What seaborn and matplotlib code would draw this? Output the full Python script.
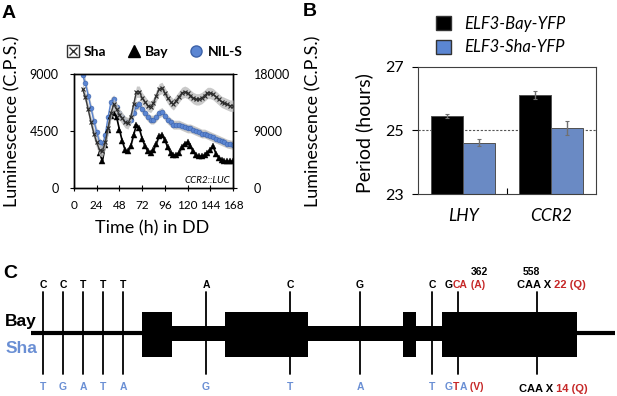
import numpy as np
import pandas as pd
import seaborn as sns
import matplotlib.pyplot as plt
from matplotlib.lines import Line2D
from matplotlib.patches import Patch, Rectangle
from matplotlib.legend_handler import HandlerTuple

sns.set_theme(style="white")
plt.rcParams['font.family'] = ['Lato', 'DejaVu Sans']
plt.rcParams['axes.edgecolor'] = 'black'
plt.rcParams['text.color'] = 'black'
plt.rcParams['xtick.color'] = 'black'
plt.rcParams['ytick.color'] = 'black'

# -----------------------------
# Panel A data: CCR2::LUC luminescence in constant dark (C.P.S.)
# -----------------------------
hours = np.arange(9, 169, 3)
sha_lum = [7800, 7200, 6200, 5200, 4300, 3600, 3000, 2900, 3600, 4700,
           5900, 6600, 6200, 5800, 5500, 5200, 5100, 5600, 6600, 7600,
           7600, 7100, 6800, 6500, 6400, 6700, 7300, 7800, 7900, 7500,
           7100, 6800, 6600, 6900, 7200, 7500, 7600, 7500, 7300, 7100,
           7000, 7000, 7100, 7300, 7500, 7500, 7400, 7200, 7000, 6800,
           6700, 6600, 6500, 6500]
# NIL-S is read on the right-hand axis
nil_lum = [17800, 16600, 14600, 12600, 10600, 8800, 7200, 6600, 8400, 11200,
           13600, 14000, 12800, 11800, 11200, 10600, 10400, 10800, 11800, 13000,
           13200, 12400, 11800, 11200, 10800, 10800, 11200, 11800, 12000, 11400,
           10800, 10400, 10000, 10000, 10000, 9800, 9600, 9400, 9400, 9200,
           9000, 8800, 8600, 8600, 8400, 8200, 8000, 7800, 7600, 7400,
           7200, 7000, 6900, 6800]
bay_hours = np.arange(27, 169, 3)
bay_lum = [2800, 2100, 3400, 4600, 5700, 5900, 5600, 4600, 3700, 3000,
           2900, 3300, 4200, 5000, 4700, 3900, 3300, 2900, 2800, 3000,
           3500, 4100, 4200, 3800, 3200, 2800, 2600, 2600, 2800, 3200,
           3500, 3600, 3300, 2900, 2600, 2500, 2500, 2600, 2800, 3000,
           3300, 2700, 2400, 2200, 2100, 2100, 2100, 2100]
sha_err = 450
bay_err = 200
nil_err = 700

# -----------------------------
# Panel B data: free-running period
# -----------------------------
genes = ['LHY', 'CCR2']
lines = ['ELF3-Bay-YFP', 'ELF3-Sha-YFP']
bay_period = [25.46, 26.11]
sha_period = [24.62, 25.09]
bay_period_err = [0.07, 0.13]
sha_period_err = [0.10, 0.22]

# -----------------------------
# Panel C data: ELF3 gene model and polymorphisms
# -----------------------------
gene_start, gene_end = 31, 615
exon_start = [142, 225, 403, 442]
exon_end = [172, 308, 416, 577]
snp_pos = [43, 63, 83, 103, 123, 206, 290, 360, 432]
bay_allele = ['C', 'C', 'T', 'T', 'T', 'A', 'C', 'G', 'C']
sha_allele = ['T', 'G', 'A', 'T', 'A', 'G', 'T', 'A', 'T']
coding_pos = [458, 537]
aa_number = ['362', '558']

red = '#C62828'
blue = '#5B86D3'
sha_blue = '#6A8FD4'

fig = plt.figure(figsize=(6.17, 3.96), dpi=100)

# ---------- A ----------
axA = fig.add_axes([74/617, 1-188/396, 159/617, 114/396])
axA2 = axA.twinx()
# Sha and Bay (left axis) drawn above NIL-S (right axis)
axA.set_zorder(axA2.get_zorder() + 1)
axA.patch.set_visible(False)

axA2.fill_between(hours, np.array(nil_lum) - nil_err, np.array(nil_lum) + nil_err,
                  color='#c8c8c8', lw=0)
sns.lineplot(x=hours, y=nil_lum, ax=axA2, color=blue, marker='o', markersize=3.5,
             markeredgecolor='#3d62a8', markeredgewidth=0.4, lw=1)
axA.fill_between(bay_hours, np.array(bay_lum) - bay_err, np.array(bay_lum) + bay_err,
                 color='#d0d0d0', lw=0, zorder=1)
sns.lineplot(x=bay_hours, y=bay_lum, ax=axA, color='black', marker='^', markersize=4,
             markeredgecolor='black', markeredgewidth=0.3, lw=1.2, zorder=2)
axA.fill_between(hours, np.array(sha_lum) - sha_err, np.array(sha_lum) + sha_err,
                 color='#c0c0c0', lw=0, alpha=0.85, zorder=3)
sns.lineplot(x=hours, y=sha_lum, ax=axA, color='#3a3a3a', marker='x', markersize=3,
             markeredgecolor='#2a2a2a', markeredgewidth=0.8, lw=1, zorder=4)

axA.set_xlim(0, 168)
axA.set_ylim(0, 9000)
axA2.set_ylim(0, 18000)
axA.set_xticks(range(0, 169, 24))
axA.set_yticks([0, 4500, 9000])
axA2.set_yticks([0, 9000, 18000])
axA.set_xlabel('')
axA.set_ylabel('')
axA2.set_ylabel('')
axA.grid(False)
axA2.grid(axis='x', color='#b0b0b0', lw=0.8)
axA2.grid(axis='y', visible=False)
for ax in (axA, axA2):
    for sp in ax.spines.values():
        sp.set_color('black')
        sp.set_linewidth(1)
axA.tick_params(axis='x', direction='inout', length=4, width=0.8, labelsize=8.5, pad=7, bottom=True)
axA.tick_params(axis='y', direction='out', length=3, width=0.8, labelsize=9, pad=8, left=True)
axA2.tick_params(axis='y', direction='out', length=3, width=0.8, labelsize=9, pad=12, right=True)
axA.text(0.985, 0.03, 'CCR2::LUC', transform=axA.transAxes, ha='right', va='bottom',
         fontsize=7, style='italic')

h_sha = (Line2D([], [], marker='s', ls='', ms=8, mfc='white', mec='#333333', mew=1),
         Line2D([], [], marker='x', ls='', ms=6, color='#333333', mew=1))
h_bay = Line2D([], [], marker='^', ls='', ms=8, color='black')
h_nil = Line2D([], [], marker='o', ls='', ms=8, mfc=blue, mec='#3d62a8')
fig.legend([h_sha, h_bay, h_nil], ['Sha', 'Bay', 'NIL-S'],
           handler_map={tuple: HandlerTuple(ndivide=1, pad=0)},
           loc='center', bbox_to_anchor=(154/617, 1-52/396), ncol=3, frameon=False,
           prop={'weight': 'bold', 'size': 10}, handletextpad=0.3, columnspacing=1.5,
           handlelength=1.0)

fig.text(12/617, 1-121/396, 'Luminescence (C.P.S.)', rotation=90, ha='center', va='center', size=13)
fig.text(313/617, 1-121/396, 'Luminescence (C.P.S.)', rotation=90, ha='center', va='center', size=13)
fig.text(152/617, 1-228/396, 'Time (h) in DD', ha='center', va='center', size=13)

# ---------- B ----------
axB = fig.add_axes([418/617, 1-194/396, 178/617, 127/396])
df_period = pd.DataFrame({
    'gene': genes * 2,
    'line': [lines[0]] * 2 + [lines[1]] * 2,
    'period': bay_period + sha_period,
})
sns.barplot(data=df_period, x='gene', y='period', hue='line', palette=['black', blue],
            width=0.72, edgecolor='#505050', linewidth=0.7, errorbar=None, legend=False,
            ax=axB, zorder=2)
err_of = dict(zip([round(v, 3) for v in bay_period + sha_period], bay_period_err + sha_period_err))
for bar in axB.patches:
    h = bar.get_height()
    axB.errorbar(bar.get_x() + bar.get_width() / 2, h, yerr=err_of[round(h, 3)],
                 color='#707070', lw=1, capsize=1.5, capthick=0.8, zorder=3)
axB.axhline(25, color='#555555', ls=(0, (2, 1.5)), lw=0.8, zorder=1)
axB.set_xlim(-0.512, 1.512)
axB.set_ylim(23, 27)
axB.set_yticks([23, 25, 27])
axB.set_xlabel('')
axB.set_ylabel('')
for sp in axB.spines.values():
    sp.set_color('#404040')
    sp.set_linewidth(0.8)
axB.tick_params(axis='y', direction='out', length=4, width=0.8, labelsize=11.5, left=True, pad=6)
axB.tick_params(axis='x', which='major', length=0, labelsize=12.5, pad=10)
for lab in axB.get_xticklabels():
    lab.set_style('italic')
axB.set_xticks([0.5], minor=True)
axB.tick_params(axis='x', which='minor', direction='in', length=4, width=0.8, bottom=True)

fig.text(364/617, 1-133/396, 'Period (hours)', rotation=90, ha='center', va='center', size=14)
fig.legend([Patch(facecolor='black', edgecolor='#333333'), Patch(facecolor=blue, edgecolor='#333333')],
           lines, loc='upper left', bbox_to_anchor=(436/617, 1-16/396), frameon=False,
           prop={'style': 'italic', 'size': 12}, handlelength=0.9, handleheight=0.9,
           handletextpad=0.8, labelspacing=0.45, borderpad=0, borderaxespad=0)

# ---------- C ----------
axC = fig.add_axes([0, 0, 1, 131/396])
axC.set_xlim(0, 617)
axC.set_ylim(396, 265)
axC.axis('off')
arial = 'Liberation Sans'

axC.plot([gene_start, gene_end], [333, 333], color='black', lw=3, solid_capstyle='butt', zorder=1)
axC.add_patch(Rectangle((exon_start[0], 326), exon_end[-1] - exon_start[0], 15, color='black', lw=0, zorder=1))
for s, e in zip(exon_start, exon_end):
    axC.add_patch(Rectangle((s, 312), e - s, 45, color='black', lw=0, zorder=1))
for x in snp_pos + coding_pos:
    axC.plot([x, x], [292, 374], color='black', lw=1.3, zorder=2)

for x, a in zip(snp_pos, bay_allele):
    axC.text(x, 285, a, ha='center', va='center', fontsize=7.5, fontweight='bold', family=arial)
for x, a in zip(snp_pos, sha_allele):
    axC.text(x, 387, a, ha='center', va='center', fontsize=7.5, fontweight='bold', family=arial, color=sha_blue)


def rainbow(x, y, pieces, size=7.5):
    t = axC.text(x, y, pieces[0][0], color=pieces[0][1], ha='left', va='center',
                 fontsize=size, fontweight='bold', family=arial)
    for s, c in pieces[1:]:
        t = axC.annotate(s, xycoords=t, xy=(1, 0), va='bottom', ha='left', color=c,
                         fontsize=size, fontweight='bold', family=arial)


rainbow(coding_pos[0] - 13, 285, [('G', 'black'), ('CA', red), (' (A)', red)])
rainbow(coding_pos[0] - 13, 387, [('G', sha_blue), ('T', red), ('A', sha_blue), (' (V)', red)])
rainbow(coding_pos[1] - 20, 285, [('CAA X', 'black'), (' 22 (Q)', red)], size=8)
rainbow(coding_pos[1] - 18, 389, [('CAA X', 'black'), (' 14 (Q)', red)], size=8)
axC.text(coding_pos[0] + 21, 272, aa_number[0], ha='center', va='center', fontsize=7.5,
         fontweight='bold', family=arial)
axC.text(coding_pos[1] - 6, 272, aa_number[1], ha='center', va='center', fontsize=7.5,
         fontweight='bold', family=arial)

axC.text(21, 321, 'Bay', ha='center', va='center', fontsize=12.5, fontweight='bold', family=arial)
axC.text(21, 348, 'Sha', ha='center', va='center', fontsize=12.5, fontweight='bold', family=arial,
         color=sha_blue)

# panel letters
for lab, px, py in [('A', 9, 13), ('B', 310, 12), ('C', 10, 274)]:
    fig.text(px/617, 1-py/396, lab, ha='center', va='center', fontsize=14, fontweight='bold', family=arial)

fig.savefig('out.png', dpi=100, facecolor='white')
